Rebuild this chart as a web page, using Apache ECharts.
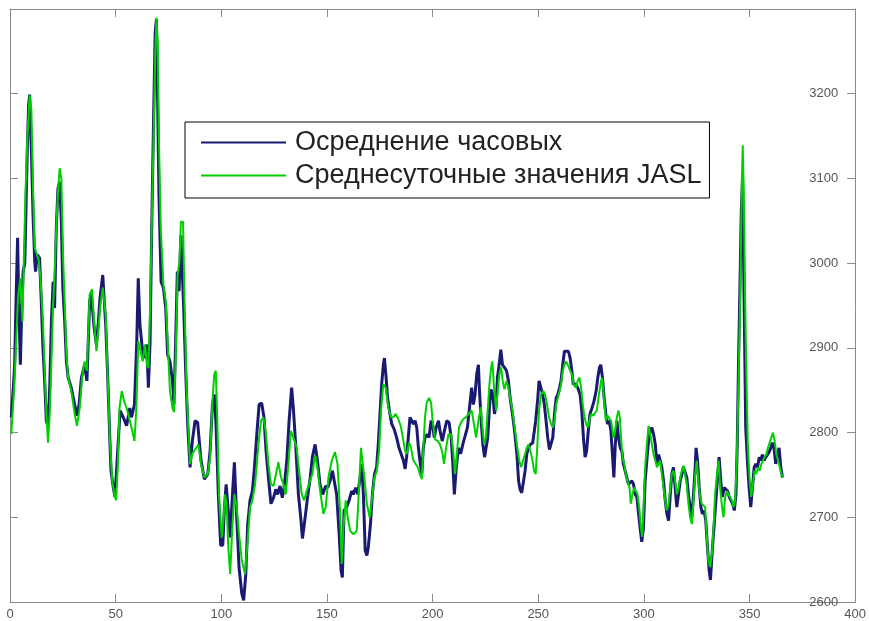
<!DOCTYPE html>
<html>
<head>
<meta charset="utf-8">
<script src="https://cdn.jsdelivr.net/npm/echarts@6/dist/echarts.min.js"></script>
<style>
	html, body { margin: 0; padding: 0; background: #fff; }
	#chart01 { width: 869px; height: 621px; }
</style>
</head>
<body>
<div id="chart01"></div>
<script>
// Осреднение часовых (day, value)
const hourlyDays = [
	0.6, 1.5, 2.2, 2.8, 3.6, 4.1, 4.9, 5.5, 6.2, 7.0, 7.7, 8.2, 8.8, 9.3, 10.1, 10.9, 11.7, 12.1, 12.9, 14.0,
	14.8, 15.6, 16.4, 17.2, 18.0, 18.8, 19.6, 20.4, 21.1, 21.9, 22.7, 23.5, 24.3, 25.0, 25.9, 26.7, 27.5, 29.0, 30.6, 31.7,
	32.7, 33.8, 35.3, 36.4, 37.7, 38.5, 39.8, 40.9, 41.8, 42.6, 43.9, 45.3, 46.2, 47.0, 47.8, 48.9, 49.7, 50.8, 52.1, 53.6,
	55.2, 56.7, 57.5, 58.9, 60.0, 60.7, 61.5, 62.6, 63.6, 64.7, 65.5, 66.3, 67.1, 67.9, 68.7, 69.3, 69.7, 70.5, 71.5, 72.6,
	73.7, 74.6, 75.7, 76.9, 77.6, 78.4, 79.2, 80.0, 80.9, 81.6, 82.2, 83.2, 84.1, 85.2, 86.3, 87.6, 88.8, 90.4, 92.0, 93.6,
	94.7, 95.8, 96.7, 97.5, 98.6, 99.7, 100.7, 101.5, 102.3, 103.3, 104.2, 105.3, 106.2, 107.3, 108.4, 109.7, 110.6, 111.6, 112.5, 113.6,
	114.7, 115.7, 116.8, 117.9, 119.1, 120.2, 121.2, 122.3, 123.5, 124.7, 125.8, 126.7, 127.8, 128.9, 129.9, 131.0, 132.1, 133.3, 134.1, 135.2,
	136.5, 137.6, 138.4, 139.7, 140.8, 142.1, 143.1, 144.4, 145.5, 146.7, 148.0, 149.4, 150.4, 151.5, 152.6, 153.5, 154.6, 155.7, 156.7, 157.3,
	158.1, 159.4, 160.5, 161.7, 162.5, 163.6, 164.6, 165.7, 166.5, 167.3, 168.1, 168.9, 169.6, 170.6, 171.5, 172.5, 173.5, 174.3, 175.2, 175.9,
	176.7, 177.2, 178.0, 178.7, 179.8, 180.7, 181.8, 183.0, 184.1, 185.1, 186.2, 187.0, 187.7, 188.5, 189.3, 190.1, 190.9, 191.7, 192.5, 193.3,
	194.0, 194.9, 195.6, 196.4, 197.5, 198.3, 199.3, 200.0, 200.8, 201.7, 202.8, 203.5, 204.6, 205.6, 206.7, 207.8, 208.8, 209.6, 210.3, 211.1,
	212.2, 213.3, 214.3, 215.4, 216.5, 217.5, 218.5, 219.3, 220.1, 220.9, 221.7, 222.2, 223.0, 223.8, 224.6, 225.3, 226.1, 227.0, 227.7, 228.5,
	229.3, 230.1, 230.7, 231.5, 232.3, 233.1, 234.0, 235.0, 235.9, 236.7, 237.8, 238.8, 239.9, 240.7, 241.4, 242.2, 242.9, 243.8, 244.6, 245.4,
	246.3, 247.4, 248.2, 248.8, 249.8, 250.4, 251.3, 252.1, 252.9, 253.7, 254.5, 255.3, 256.1, 256.9, 257.7, 258.5, 259.3, 260.1, 260.8, 261.6,
	262.4, 263.2, 264.3, 265.1, 265.9, 266.6, 267.7, 268.7, 269.8, 270.6, 271.4, 272.2, 272.9, 273.7, 274.5, 275.3, 276.4, 277.4, 278.2, 279.0,
	279.6, 280.4, 281.2, 282.0, 282.8, 283.6, 284.4, 285.1, 285.8, 286.4, 287.2, 288.0, 288.8, 289.6, 290.3, 291.1, 291.9, 292.7, 293.5, 294.3,
	295.1, 295.9, 296.7, 297.5, 298.2, 299.0, 299.8, 300.6, 301.4, 302.2, 303.0, 303.8, 304.6, 305.4, 306.2, 307.0, 307.7, 308.5, 309.3, 310.1,
	310.9, 311.7, 312.5, 313.2, 314.0, 314.8, 315.6, 316.4, 317.2, 318.0, 318.7, 319.5, 320.3, 321.1, 321.9, 322.7, 323.5, 324.3, 324.7, 325.4,
	326.2, 327.0, 327.7, 328.5, 329.3, 330.1, 330.9, 331.5, 332.5, 333.3, 334.1, 334.9, 335.6, 336.4, 337.2, 338.0, 338.8, 339.6, 340.4, 341.2,
	342.0, 342.8, 343.6, 344.2, 344.8, 345.4, 346.1, 346.7, 347.1, 347.6, 348.2, 349.0, 349.8, 350.6, 351.4, 352.2, 353.0, 353.8, 354.6, 355.3,
	356.1, 356.9, 357.7, 358.5, 359.3, 360.1, 360.8, 361.6, 362.4, 363.2, 364.0, 364.8, 365.6
];
const hourlyValues = [
	2818, 2850, 2880, 2950, 3030, 2960, 2880, 2940, 2990, 3000, 3080, 3135, 3186, 3199, 3135, 3057, 3002, 2990, 3010, 3006,
	2955, 2900, 2861, 2814, 2806, 2853, 2931, 2978, 2947, 3041, 3088, 3096, 3049, 2971, 2931, 2884, 2865, 2853, 2833, 2820,
	2833, 2865, 2880, 2861, 2955, 2963, 2924, 2904, 2930, 2959, 2986, 2927, 2869, 2810, 2755, 2735, 2724, 2771, 2826, 2818,
	2808, 2829, 2818, 2833, 2908, 2982, 2927, 2900, 2888, 2904, 2853, 2908, 3045, 3163, 3272, 3288, 3222, 3080, 2978, 2971,
	2947, 2892, 2884, 2861, 2833, 2908, 2990, 2967, 3033, 3033, 2947, 2869, 2810, 2759, 2790, 2814, 2812, 2767, 2745, 2751,
	2778, 2833, 2845, 2810, 2727, 2667, 2667, 2712, 2739, 2708, 2676, 2727, 2765, 2700, 2641, 2610, 2602, 2633, 2692, 2720,
	2731, 2759, 2798, 2833, 2835, 2818, 2778, 2747, 2716, 2723, 2733, 2727, 2737, 2723, 2739, 2767, 2814, 2853, 2829, 2786,
	2727, 2700, 2675, 2700, 2723, 2747, 2771, 2786, 2767, 2739, 2727, 2737, 2735, 2743, 2755, 2757, 2727, 2684, 2637, 2629,
	2708, 2712, 2720, 2731, 2727, 2735, 2727, 2747, 2763, 2724, 2661, 2655, 2665, 2692, 2727, 2751, 2759, 2786, 2826, 2857,
	2880, 2888, 2865, 2841, 2822, 2810, 2804, 2794, 2782, 2775, 2767, 2757, 2771, 2794, 2818, 2814, 2810, 2814, 2806, 2782,
	2767, 2751, 2782, 2794, 2798, 2794, 2814, 2810, 2794, 2806, 2814, 2802, 2790, 2802, 2814, 2812, 2794, 2763, 2727, 2755,
	2782, 2775, 2786, 2796, 2806, 2830, 2853, 2833, 2845, 2869, 2880, 2849, 2814, 2786, 2771, 2769, 2794, 2833, 2851, 2845,
	2822, 2833, 2865, 2880, 2898, 2880, 2877, 2873, 2861, 2841, 2822, 2802, 2775, 2743, 2733, 2729, 2727, 2755, 2775, 2782,
	2786, 2788, 2786, 2814, 2841, 2861, 2859, 2845, 2833, 2814, 2794, 2780, 2778, 2794, 2822, 2841, 2845, 2853, 2861, 2880,
	2896, 2898, 2896, 2888, 2873, 2857, 2857, 2853, 2845, 2826, 2794, 2771, 2778, 2802, 2822, 2828, 2837, 2849, 2865, 2877,
	2880, 2865, 2841, 2822, 2810, 2814, 2802, 2775, 2747, 2782, 2814, 2794, 2782, 2778, 2763, 2755, 2747, 2739, 2739, 2743,
	2739, 2727, 2724, 2704, 2688, 2671, 2688, 2743, 2767, 2790, 2802, 2806, 2798, 2786, 2763, 2774, 2773, 2759, 2743, 2720,
	2704, 2696, 2727, 2751, 2759, 2735, 2712, 2727, 2743, 2751, 2759, 2761, 2747, 2727, 2712, 2700, 2727, 2759, 2782, 2767,
	2735, 2712, 2704, 2708, 2696, 2665, 2637, 2626, 2665, 2692, 2720, 2747, 2771, 2743, 2724, 2735, 2737, 2731, 2724, 2720,
	2716, 2708, 2727, 2786, 2884, 2963, 3061, 3100, 3025, 2924, 2806, 2767, 2735, 2712, 2735, 2759, 2763, 2759, 2771, 2767,
	2774, 2767, 2771, 2773, 2777, 2782, 2788, 2782, 2763, 2774, 2782, 2759, 2747
];

// Среднесуточные значения JASL (day, value)
const jaslDays = [
	0.6, 1.9, 2.8, 3.8, 4.9, 5.9, 6.6, 7.3, 8.2, 9.3, 10.1, 10.9, 11.7, 12.8, 13.7, 14.5, 15.6, 16.4, 17.2, 18.0,
	18.8, 19.6, 20.4, 21.1, 21.9, 22.7, 23.5, 24.3, 25.1, 25.9, 26.7, 27.5, 29.0, 30.6, 31.7, 33.0, 34.1, 35.3, 36.4, 37.7,
	38.8, 39.8, 40.9, 41.8, 42.6, 43.9, 45.3, 46.2, 47.3, 48.4, 49.4, 50.2, 51.0, 51.8, 52.9, 54.0, 55.2, 56.3, 57.5, 58.9,
	59.8, 60.7, 61.8, 62.8, 63.9, 64.8, 65.5, 66.3, 67.1, 67.9, 68.7, 69.3, 69.9, 70.5, 71.3, 72.6, 73.7, 74.6, 75.7, 76.9,
	77.6, 78.4, 79.3, 80.2, 80.9, 81.9, 82.5, 83.6, 85.2, 86.3, 87.6, 89.2, 90.4, 92.0, 93.6, 94.7, 95.8, 96.7, 97.4, 98.1,
	98.9, 100.2, 101.0, 101.8, 102.6, 103.3, 104.2, 105.3, 106.2, 107.3, 108.4, 109.7, 111.2, 112.5, 113.6, 114.7, 116.0, 117.6, 118.8, 119.9,
	121.0, 122.3, 123.5, 124.7, 125.9, 127.0, 128.3, 129.4, 130.5, 131.8, 132.9, 134.1, 135.7, 137.0, 138.1, 139.2, 140.4, 142.0, 143.1, 144.4,
	145.5, 146.8, 148.3, 149.4, 150.7, 152.3, 153.8, 155.0, 156.2, 157.0, 157.8, 158.9, 159.8, 161.0, 162.5, 164.1, 165.2, 166.1, 166.9, 167.7,
	168.9, 170.2, 171.2, 172.5, 173.6, 174.7, 175.6, 176.7, 177.8, 179.0, 180.3, 181.4, 182.5, 183.8, 185.1, 186.2, 187.0, 187.8, 188.9, 189.8,
	190.9, 192.0, 193.0, 194.0, 194.9, 195.6, 196.4, 197.2, 198.3, 199.3, 200.0, 201.2, 202.4, 203.5, 204.6, 205.4, 206.4, 207.5, 208.8, 209.9,
	210.6, 211.4, 212.5, 213.5, 214.6, 215.7, 217.0, 218.5, 219.6, 220.6, 221.7, 222.8, 223.6, 224.4, 225.2, 226.1, 226.9, 227.7, 228.3, 229.1,
	230.1, 230.7, 231.6, 232.4, 233.2, 234.0, 235.0, 235.9, 236.7, 237.8, 238.8, 239.9, 241.0, 241.9, 242.8, 243.8, 244.6, 245.4, 246.3, 247.3,
	248.0, 248.8, 249.6, 250.4, 251.3, 252.4, 253.2, 254.2, 255.1, 256.1, 256.9, 257.7, 258.5, 259.3, 260.1, 260.8, 261.6, 262.4, 263.2, 264.3,
	265.1, 265.9, 266.8, 267.7, 268.7, 269.5, 270.3, 271.1, 271.9, 272.7, 273.4, 274.2, 275.0, 276.1, 276.9, 277.7, 278.5, 279.5, 280.1, 280.7,
	281.3, 282.0, 282.8, 283.6, 284.5, 285.6, 286.4, 287.2, 288.0, 288.6, 289.2, 289.9, 290.7, 291.4, 292.2, 293.2, 293.8, 294.6, 295.4, 296.2,
	297.0, 297.8, 298.5, 299.2, 299.8, 300.6, 301.4, 302.2, 303.0, 303.8, 304.6, 305.4, 306.2, 307.0, 307.7, 308.5, 309.3, 310.1, 310.9, 311.7,
	312.5, 313.2, 314.0, 314.8, 315.6, 316.4, 317.2, 318.0, 318.7, 319.5, 320.3, 321.1, 321.9, 322.7, 323.5, 324.3, 325.0, 325.8, 326.6, 327.4,
	328.2, 329.0, 329.8, 330.5, 331.4, 332.2, 333.0, 333.7, 334.6, 335.4, 336.1, 337.0, 337.7, 338.5, 339.3, 340.0, 340.8, 341.6, 342.5, 343.2,
	344.0, 344.8, 345.6, 346.4, 346.8, 347.3, 347.9, 348.4, 349.2, 350.0, 350.8, 351.6, 352.4, 353.2, 354.0, 354.8, 355.6, 356.4, 357.1, 357.9,
	358.7, 359.5, 360.3, 361.1, 361.9, 362.7, 363.5, 364.3, 365.1, 365.9
];
const jaslValues = [
	2798, 2850, 2900, 2960, 2982, 2931, 3010, 3080, 3147, 3198, 3182, 3088, 3018, 3010, 3002, 2978, 2931, 2873, 2822, 2788,
	2822, 2884, 2951, 2986, 3041, 3084, 3112, 3100, 3010, 2951, 2892, 2865, 2849, 2822, 2808, 2829, 2865, 2884, 2873, 2963,
	2969, 2931, 2896, 2920, 2947, 2971, 2939, 2869, 2790, 2743, 2727, 2720, 2759, 2829, 2849, 2837, 2829, 2818, 2806, 2790,
	2829, 2908, 2896, 2884, 2904, 2880, 2876, 2947, 3045, 3143, 3241, 3290, 3261, 3143, 3045, 2975, 2955, 2908, 2849, 2829,
	2824, 2888, 2986, 3002, 3049, 3049, 2967, 2849, 2763, 2775, 2780, 2786, 2763, 2747, 2751, 2771, 2837, 2869, 2873, 2818,
	2727, 2676, 2696, 2727, 2712, 2665, 2633, 2692, 2727, 2712, 2680, 2649, 2633, 2673, 2712, 2720, 2739, 2786, 2814, 2818,
	2802, 2763, 2739, 2737, 2751, 2765, 2747, 2739, 2727, 2763, 2802, 2794, 2782, 2751, 2727, 2720, 2731, 2743, 2751, 2773,
	2759, 2731, 2704, 2712, 2747, 2767, 2777, 2763, 2708, 2645, 2688, 2720, 2700, 2684, 2680, 2684, 2735, 2782, 2782, 2747,
	2716, 2700, 2720, 2747, 2755, 2779, 2826, 2857, 2853, 2830, 2818, 2818, 2822, 2816, 2806, 2790, 2778, 2775, 2788, 2782,
	2767, 2763, 2759, 2751, 2745, 2779, 2818, 2835, 2841, 2835, 2814, 2792, 2790, 2786, 2777, 2763, 2782, 2798, 2798, 2775,
	2751, 2771, 2806, 2812, 2816, 2818, 2822, 2826, 2810, 2794, 2814, 2830, 2806, 2786, 2794, 2826, 2857, 2877, 2884, 2853,
	2826, 2845, 2869, 2877, 2861, 2851, 2861, 2853, 2841, 2826, 2806, 2786, 2767, 2759, 2761, 2775, 2782, 2786, 2778, 2767,
	2755, 2751, 2786, 2826, 2845, 2849, 2845, 2833, 2818, 2810, 2806, 2814, 2833, 2841, 2849, 2857, 2873, 2880, 2884, 2878,
	2873, 2869, 2857, 2853, 2861, 2865, 2853, 2833, 2818, 2810, 2806, 2814, 2822, 2820, 2818, 2826, 2841, 2857, 2865, 2853,
	2833, 2814, 2820, 2822, 2814, 2794, 2802, 2818, 2826, 2818, 2794, 2771, 2763, 2751, 2743, 2735, 2716, 2727, 2735, 2731,
	2727, 2712, 2690, 2677, 2708, 2759, 2786, 2808, 2798, 2786, 2774, 2767, 2759, 2757, 2767, 2751, 2735, 2720, 2708, 2716,
	2735, 2751, 2755, 2743, 2727, 2735, 2747, 2755, 2761, 2759, 2739, 2716, 2700, 2692, 2720, 2751, 2767, 2743, 2724, 2716,
	2716, 2712, 2677, 2649, 2641, 2657, 2688, 2727, 2751, 2767, 2735, 2712, 2700, 2724, 2731, 2727, 2724, 2720, 2712, 2720,
	2767, 2861, 2963, 3100, 3139, 3080, 2963, 2884, 2786, 2747, 2724, 2739, 2755, 2751, 2759, 2755, 2763, 2767, 2771, 2774,
	2782, 2788, 2794, 2800, 2790, 2774, 2767, 2759, 2751, 2747
];

// 축 설정
const xTicks = [0, 50, 100, 150, 200, 250, 300, 350, 400];
const yTicks = [2600, 2700, 2800, 2900, 3000, 3100, 3200];
const legendNames = ['Осреднение часовых', 'Среднесуточные значения JASL'];

const CHART_M01 = {
	targetElId: 'chart01',
	init: function() {
		this.setChart01();
	},
	setChart01: function() {
		const frameColor = '#8a8a8a';
		const labelStyle = {
			color: '#555',
			fontFamily: 'Liberation Sans, Arial, sans-serif',
			fontSize: 13,
		};
		const zip = (xs, ys) => xs.map((d, i) => [d, ys[i]]);

		const option = {
			animation: false,
			backgroundColor: '#fff',
			grid: {
				left: 10,
				right: 12,
				top: 9,
				bottom: 16,
				containLabel: false,
			},
			legend: {
				orient: 'vertical',
				left: 185,
				top: 122,
				padding: [7, 8, 9, 15],
				itemWidth: 85,
				itemHeight: 14,
				itemGap: 6,
				backgroundColor: '#fff',
				borderColor: '#000',
				borderWidth: 1,
				borderRadius: 0,
				itemStyle: { opacity: 0 },
				textStyle: {
					color: '#222',
					fontFamily: 'Liberation Sans, Arial, sans-serif',
					fontSize: 27,
					padding: [0, 0, 0, 4],
				},
				data: legendNames,
			},
			xAxis: [
				{
					type: 'value',
					position: 'bottom',
					min: xTicks[0],
					max: xTicks[xTicks.length - 1],
					interval: 50,
					axisLine: { show: true, onZero: false, lineStyle: { color: frameColor, width: 1 } },
					axisTick: { show: true, inside: true, length: 8, lineStyle: { color: frameColor } },
					axisLabel: Object.assign({ margin: 6 }, labelStyle),
					splitLine: { show: false },
				},
				{
					type: 'value',
					position: 'top',
					min: xTicks[0],
					max: xTicks[xTicks.length - 1],
					interval: 50,
					axisLine: { show: true, onZero: false, lineStyle: { color: frameColor, width: 1 } },
					axisTick: { show: true, inside: true, length: 8, lineStyle: { color: frameColor } },
					axisLabel: { show: false },
					splitLine: { show: false },
				},
			],
			yAxis: [
				{
					type: 'value',
					position: 'right',
					min: yTicks[0],
					max: 3300,
					interval: 100,
					axisLine: { show: true, onZero: false, lineStyle: { color: frameColor, width: 1 } },
					axisTick: { show: true, inside: true, length: 8, lineStyle: { color: frameColor } },
					axisLabel: Object.assign({
						inside: true,
						margin: 17,
						showMaxLabel: false,
						formatter: (v) => yTicks.includes(v) ? String(v) : '',
					}, labelStyle),
					splitLine: { show: false },
				},
				{
					type: 'value',
					position: 'left',
					min: yTicks[0],
					max: 3300,
					interval: 100,
					axisLine: { show: true, onZero: false, lineStyle: { color: frameColor, width: 1 } },
					axisTick: { show: true, inside: true, length: 8, lineStyle: { color: frameColor } },
					axisLabel: { show: false },
					splitLine: { show: false },
				},
			],
			series: [
				{
					name: legendNames[0],
					type: 'line',
					symbol: 'none',
					xAxisIndex: 0,
					yAxisIndex: 0,
					lineStyle: { color: '#1a1a72', width: 3 },
					itemStyle: { color: '#1a1a72' },
					data: zip(hourlyDays, hourlyValues),
				},
				{
					name: legendNames[1],
					type: 'line',
					symbol: 'none',
					xAxisIndex: 0,
					yAxisIndex: 0,
					lineStyle: { color: '#00d000', width: 2 },
					itemStyle: { color: '#00d000' },
					data: zip(jaslDays, jaslValues),
				},
			],
		};

		const myChart = echarts.init(
			document.getElementById(this.targetElId),
			null,
			{ renderer: 'canvas' }
		);
		myChart.setOption(option);
		window.addEventListener('resize', myChart.resize);
	},
};

CHART_M01.init();
</script>
</body>
</html>
